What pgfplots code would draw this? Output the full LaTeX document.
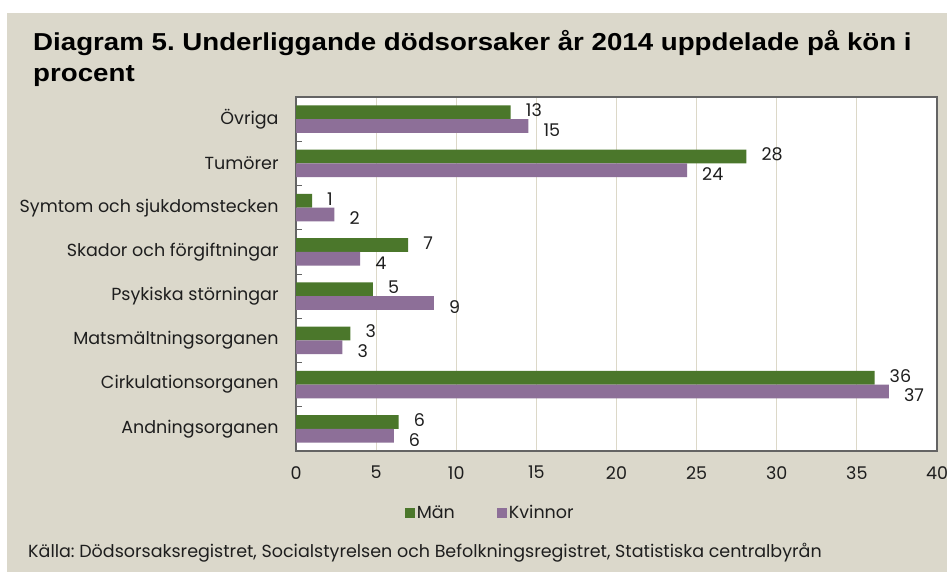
\documentclass[border=0pt]{standalone}
\usepackage{fontspec}
\setmainfont{Poppins}
\newfontfamily\titlefont[FakeStretch=1.13]{Liberation Sans}
\usepackage{pgfplots}
\pgfplotsset{compat=1.18}

\definecolor{bgbeige}{RGB}{219,216,203}
\definecolor{mangreen}{RGB}{75,119,43}
\definecolor{kvpurple}{RGB}{141,111,152}
\definecolor{framegray}{RGB}{100,100,100}
\definecolor{gridc}{RGB}{220,216,200}
\definecolor{txt}{RGB}{30,30,30}

\begin{document}
\frenchspacing
\begin{tikzpicture}[x=1pt,y=1pt]
\useasboundingbox (0,0) rectangle (947,578);
\fill[white] (0,0) rectangle (947,578);
\fill[bgbeige] (7,6) rectangle (947,565);
\node[anchor=base west, inner sep=0, text=black, font=\titlefont\bfseries\fontsize{24.5}{30}\selectfont] at (33,527) {Diagram 5. Underliggande dödsorsaker år 2014 uppdelade på kön i};
\node[anchor=base west, inner sep=0, text=black, font=\titlefont\bfseries\fontsize{24.5}{30}\selectfont] at (33,496) {procent};

\begin{axis}[
  at={(296pt,127pt)}, anchor=south west,
  scale only axis,
  width=641pt, height=354pt,
  xbar,
  bar width=0.31,
  xmin=0, xmax=40,
  ymin=-0.5, ymax=7.5,
  y dir=reverse,
  axis background/.style={fill=white},
  axis line style={framegray, line width=1.1pt},
  xtick={0,5,...,40},
  xtick style={draw=none},
  xmajorgrids,
  major grid style={gridc, line width=0.9pt},
  ytick={0,...,7},
  yticklabels={Övriga,Tumörer,Symtom och sjukdomstecken,Skador och förgiftningar,Psykiska störningar,Matsmältningsorganen,Cirkulationsorganen,Andningsorganen},
  ytick style={draw=none},
  ytick pos=left,
  extra y ticks={0.5,1.5,...,6.5},
  extra y tick labels={},
  extra y tick style={ytick style={draw=framegray, line width=0.9pt}, major tick length=6pt, tick align=inside, grid=none},
  /pgf/number format/assume math mode=true,
  tick label style={font=\fontsize{17.5}{21}\selectfont, text=txt},
  yticklabel style={inner sep=0pt, xshift=-13pt},
  xticklabel style={inner sep=0pt, yshift=-15pt},
  point meta=explicit symbolic,
  nodes near coords={\pgfplotspointmeta},
  nodes near coords style={font=\fontsize{17.5}{21}\selectfont, text=txt, anchor=west, inner sep=0pt, xshift=15pt},
  legend style={at={(0.303,-0.175)}, anchor=center, draw=none, fill=none,
    legend columns=2, font=\fontsize{17.5}{21}\selectfont, text=txt,
    /tikz/every even column/.append style={column sep=40pt}},
  legend image code/.code={\path[#1,draw=none] (0pt,-5pt) rectangle (10pt,5pt);},
]
\addplot[fill=mangreen, draw=none, bar shift=-0.155,
  nodes near coords style={yshift=2pt}] coordinates {
  (13.4,0) [13]
  (28.1,1) [28]
  (1.0,2) [1]
  (7.0,3) [7]
  (4.8,4) [5]
  (3.4,5) [3]
  (36.1,6) [36]
  (6.4,7) [6]
};
\addplot[fill=kvpurple, draw=none, bar shift=0.155,
  nodes near coords style={yshift=-4pt}] coordinates {
  (14.5,0) [15]
  (24.4,1) [24]
  (2.4,2) [2]
  (4.0,3) [4]
  (8.6,4) [9]
  (2.9,5) [3]
  (37.0,6) [37]
  (6.1,7) [6]
};
\legend{Män,Kvinnor}
\end{axis}

\node[anchor=base west, inner sep=0, text=txt, font=\fontsize{17.5}{21}\selectfont] at (28,20) {Källa: Dödsorsaksregistret, Socialstyrelsen och Befolkningsregistret, Statistiska centralbyrån};
\end{tikzpicture}
\end{document}
